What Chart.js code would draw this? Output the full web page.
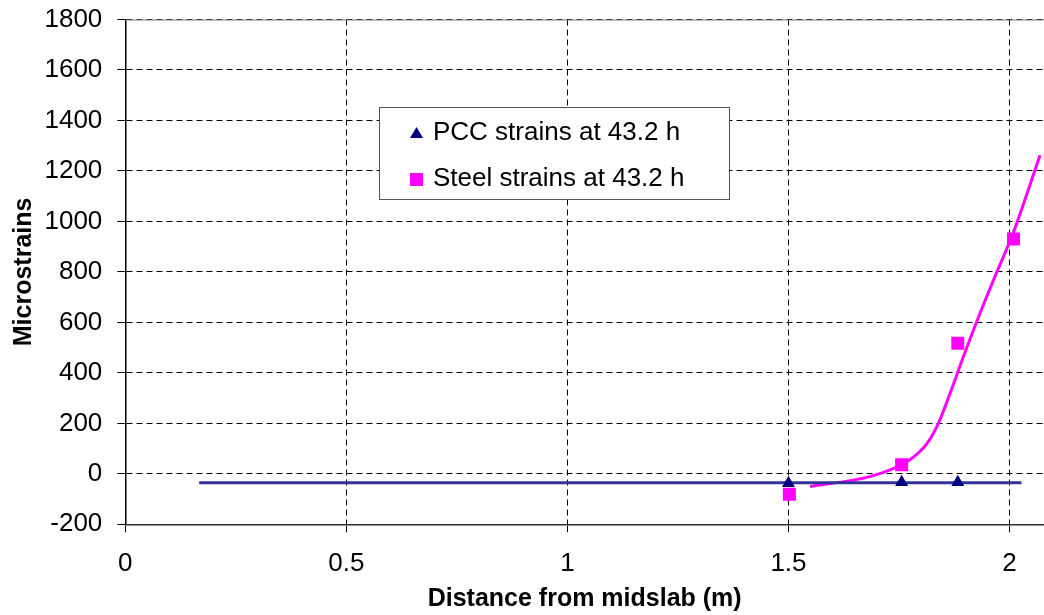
<!DOCTYPE html>
<html>

<head>
    <meta charset="utf-8" />
    <title>Microstrains vs distance</title>
    <style>
        html, body { margin: 0; padding: 0; background: #fff; }
        #wrap { width: 1044px; height: 615px; }
    </style>
</head>

<body>
    <div id="wrap">
        <canvas id="chart" width="1044" height="615"></canvas>
    </div>

    <script src="https://cdn.jsdelivr.net/npm/chart.js"></script>

    <script>
        // measured points
        var pccX = [1.5, 1.756, 1.883];
        var pccY = [-37, -33, -33];
        var steelX = [1.502, 1.756, 1.883, 2.009];
        var steelY = [-81, 36, 517, 930];

        // trend lines
        var pccTrendX = [0.167, 2.027];
        var pccTrendY = [-35, -35];
        var steelTrendX = [1.549, 1.67, 1.756, 1.805, 1.836, 1.866, 1.896, 1.934, 1.971, 2.009, 2.069];
        var steelTrendY = [-50, -17, 36, 102, 188, 321, 466, 639, 798, 957, 1262];

        var xTicks = [0, 0.5, 1, 1.5, 2];
        var yTicks = [-200, 0, 200, 400, 600, 800, 1000, 1200, 1400, 1600, 1800];

        var legendLabels = ['PCC strains at 43.2 h', 'Steel strains at 43.2 h'];

        var FONT = '"Liberation Sans", Arial, sans-serif';

        function pts(xs, ys) {
            return xs.map(function (x, i) { return { x: x, y: ys[i] }; });
        }

        // legend box in the chart area + solid top edge
        var extras = {
            id: 'extras',
            afterDraw: function (chart) {
                var ctx = chart.ctx;
                var a = chart.chartArea;
                ctx.save();
                ctx.strokeStyle = '#808080';
                ctx.lineWidth = 1;
                ctx.beginPath();
                ctx.moveTo(a.left, a.top + 0.5);
                ctx.lineTo(a.right, a.top + 0.5);
                ctx.stroke();

                // legend
                var bx = 379.5, by = 107.5, bw = 350, bh = 92;
                ctx.fillStyle = '#fff';
                ctx.fillRect(bx, by, bw, bh);
                ctx.strokeStyle = '#555';
                ctx.strokeRect(bx, by, bw, bh);

                ctx.font = '26px ' + FONT;
                ctx.textBaseline = 'middle';

                // triangle
                var tx = 416.5, ty = 134;
                ctx.fillStyle = '#000080';
                ctx.beginPath();
                ctx.moveTo(tx, ty - 7);
                ctx.lineTo(tx + 6.5, ty + 4);
                ctx.lineTo(tx - 6.5, ty + 4);
                ctx.closePath();
                ctx.fill();
                // square
                ctx.fillStyle = '#ff00ff';
                ctx.fillRect(410, 173, 13, 13);

                ctx.fillStyle = '#000';
                ctx.fillText(legendLabels[0], 433, 133);
                ctx.fillText(legendLabels[1], 433, 179);
                ctx.restore();
            }
        };

        new Chart(document.getElementById('chart'), {
            type: 'scatter',
            data: {
                datasets: [{
                    label: 'PCC trend',
                    data: pts(pccTrendX, pccTrendY),
                    showLine: true,
                    borderColor: '#333399',
                    borderWidth: 3,
                    pointRadius: 0,
                    order: 3
                }, {
                    label: 'Steel trend',
                    data: pts(steelTrendX, steelTrendY),
                    showLine: true,
                    borderColor: '#ff00ff',
                    borderWidth: 3,
                    pointRadius: 0,
                    tension: 0.3,
                    order: 4
                }, {
                    label: legendLabels[0],
                    data: pts(pccX, pccY),
                    pointStyle: 'triangle',
                    pointRadius: 7.5,
                    backgroundColor: '#000080',
                    borderWidth: 0,
                    order: 1
                }, {
                    label: legendLabels[1],
                    data: pts(steelX, steelY),
                    pointStyle: 'rect',
                    pointRadius: 9.2,
                    backgroundColor: '#ff00ff',
                    borderWidth: 0,
                    order: 2
                }]
            },
            options: {
                responsive: false,
                animation: false,
                layout: { autoPadding: false, padding: { top: 19.5, right: 0, left: 0, bottom: 0 } },
                plugins: {
                    legend: { display: false },
                    tooltip: { enabled: false }
                },
                scales: {
                    x: {
                        type: 'linear',
                        min: 0,
                        max: 2.078,
                        afterBuildTicks: function (s) { s.ticks = xTicks.map(function (v) { return { value: v }; }); },
                        afterFit: function (s) {
                            s.height = 90.7;
                            s.paddingLeft = 0; s.paddingRight = 0;
                        },
                        ticks: {
                            color: '#000',
                            font: { family: FONT, size: 26 },
                            padding: 16,
                            maxRotation: 0,
                            callback: function (v) { return String(v); }
                        },
                        grid: { color: '#000', lineWidth: 1, tickLength: 8, tickColor: '#000' },
                        border: { color: '#333', width: 1.5, dash: [6, 4] },
                        title: {
                            display: true,
                            text: 'Distance from midslab (m)',
                            color: '#000',
                            font: { family: FONT, size: 25, weight: 'bold' },
                            padding: { top: 0, bottom: 1 }
                        }
                    },
                    y: {
                        min: -200,
                        max: 1800,
                        afterBuildTicks: function (s) { s.ticks = yTicks.map(function (v) { return { value: v }; }); },
                        afterFit: function (s) {
                            s.width = 125.3;
                            s.paddingTop = 0; s.paddingBottom = 0;
                        },
                        ticks: {
                            color: '#000',
                            font: { family: FONT, size: 26 },
                            padding: 15,
                            callback: function (v) { return String(v); }
                        },
                        grid: { color: '#000', lineWidth: 1, tickLength: 8, tickColor: '#000' },
                        border: { color: '#000', width: 1.5, dash: [6, 4] },
                        title: {
                            display: true,
                            text: 'Microstrains',
                            color: '#000',
                            font: { family: FONT, size: 25, weight: 'bold' },
                            padding: { top: 9, bottom: 0 }
                        }
                    }
                }
            },
            plugins: [extras]
        });
    </script>
</body>

</html>
